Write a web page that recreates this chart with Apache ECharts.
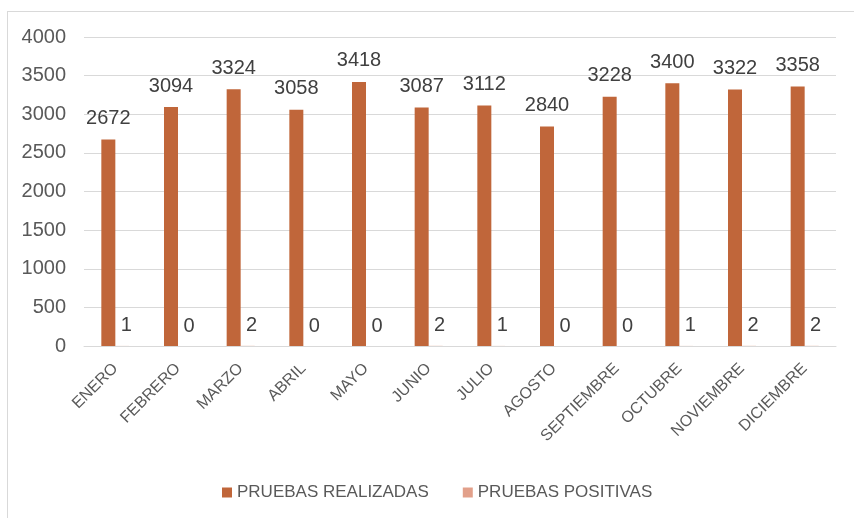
<!DOCTYPE html>
<html>
<head>
<meta charset="utf-8">
<script src="https://cdn.jsdelivr.net/npm/echarts@6/dist/echarts.min.js"></script>
<style>
  html, body { margin: 0; padding: 0; background: #fff; }
  #frame { position: absolute; left: 7px; top: 11px; width: 850px; height: 520px; border: 1px solid #d9d9d9; box-sizing: border-box; }
  #chart { position: absolute; left: 0; top: 0; width: 854px; height: 518px; }
</style>
</head>
<body>
<div id="frame"></div>
<div id="chart"></div>
<script>
var months = ["ENERO", "FEBRERO", "MARZO", "ABRIL", "MAYO", "JUNIO", "JULIO", "AGOSTO", "SEPTIEMBRE", "OCTUBRE", "NOVIEMBRE", "DICIEMBRE"];
var realizadas = [2672, 3094, 3324, 3058, 3418, 3087, 3112, 2840, 3228, 3400, 3322, 3358];
var positivas = [1, 0, 2, 0, 0, 2, 1, 0, 0, 1, 2, 2];
var yTicks = [0, 500, 1000, 1500, 2000, 2500, 3000, 3500, 4000];

var chart = echarts.init(document.getElementById("chart"));
var font = "'Liberation Sans', Arial, sans-serif";
var option = {
  animation: false,
  textStyle: { fontFamily: font },
  grid: { left: 84, right: 18, top: 37, bottom: 172 },
  legend: {
    bottom: 12,
    left: 217,
    itemWidth: 10,
    itemHeight: 10,
    itemGap: 34,
    icon: "rect",
    textStyle: { color: "#595959", fontSize: 17, fontFamily: font },
    data: ["PRUEBAS REALIZADAS", "PRUEBAS POSITIVAS"]
  },
  xAxis: {
    type: "category",
    data: months,
    axisLine: { lineStyle: { color: "#d9d9d9", width: 1 } },
    axisTick: { show: false },
    axisLabel: { rotate: 45, color: "#595959", fontSize: 16, margin: 20, interval: 0 }
  },
  yAxis: {
    type: "value",
    min: yTicks[0],
    max: yTicks[yTicks.length - 1],
    interval: 500,
    axisLine: { show: false },
    axisTick: { show: false },
    splitLine: { lineStyle: { color: "#d9d9d9", width: 1 } },
    axisLabel: { color: "#595959", fontSize: 20, margin: 18, formatter: function (v) { return String(v); } }
  },
  series: [
    {
      name: "PRUEBAS REALIZADAS",
      type: "bar",
      data: realizadas,
      barWidth: 14,
      barGap: "0%",
      itemStyle: { color: "#c0663a" },
      label: { show: true, position: "top", color: "#404040", fontSize: 20, distance: 11 }
    },
    {
      name: "PRUEBAS POSITIVAS",
      type: "bar",
      data: positivas,
      barWidth: 14,
      itemStyle: { color: "#e2a08a" },
      label: { show: true, position: "top", color: "#404040", fontSize: 20, distance: 10, offset: [4, 0] }
    }
  ]
};
chart.setOption(option);
</script>
</body>
</html>
